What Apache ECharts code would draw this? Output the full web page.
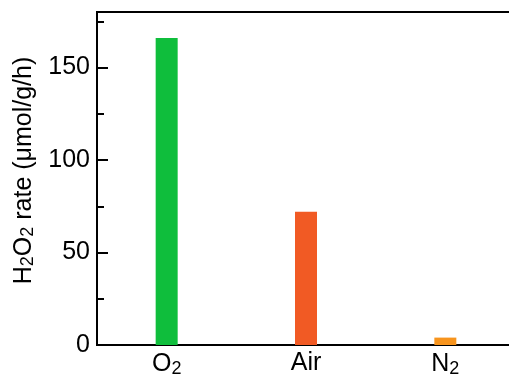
<!DOCTYPE html>
<html><head><meta charset="utf-8">
<script src="https://cdn.jsdelivr.net/npm/echarts@6/dist/echarts.min.js"></script>
<style>html,body{margin:0;padding:0;background:#fff}#c{width:509px;height:378px}</style>
</head><body><div id="c"></div>
<script>
const categories = ['O2', 'Air', 'N2'];
const categoryLabels = ['{n|O}{s|2}', '{n|Air}', '{n|N}{s|2}'];
const rates = [166, 72, 4];
const barColors = ['#0FBE3C', '#F15A24', '#F7941D'];
const yTicks = [0, 50, 100, 150];

const chart = echarts.init(document.getElementById('c'));
const font = 'Liberation Sans, Arial, sans-serif';
const rich = {
  n: { fontSize: 25, color: '#000', fontFamily: font },
  s: { fontSize: 18, color: '#000', fontFamily: font, verticalAlign: 'bottom', padding: [9, 0, 0, 0] }
};
chart.setOption({
  animation: false,
  grid: { left: 97, top: 12, width: 418, bottom: 33, outerBoundsMode: 'none', containLabel: false, show: true, borderColor: '#000', borderWidth: 2, backgroundColor: 'transparent' },
  xAxis: {
    type: 'category', data: categories,
    axisLine: { lineStyle: { color: '#000', width: 2 } },
    axisTick: { show: false },
    axisLabel: { margin: 6, fontFamily: font, formatter: (v, i) => categoryLabels[i], rich: rich }
  },
  yAxis: {
    type: 'value', min: 0, max: 180, interval: 50,
    axisLine: { show: true, lineStyle: { color: '#000', width: 2 } },
    axisTick: { show: true, inside: true, length: 11, lineStyle: { color: '#000', width: 2 } },
    minorTick: { show: true, splitNumber: 2, length: 7, lineStyle: { color: '#000', width: 2 } },
    splitLine: { show: false },
    axisLabel: { color: '#000', fontSize: 25, fontFamily: font, margin: 7, formatter: v => yTicks.includes(v) ? String(v) : '' },
    name: '{n|H}{s|2}{n|O}{s|2}{n| rate (μmol/g/h)}',
    nameLocation: 'middle', nameRotate: 90, nameGap: 57,
    nameTextStyle: { padding: [0, 0, 0, 16], rich: rich }
  },
  series: [{
    type: 'bar', barWidth: 22,
    data: rates.map((v, i) => ({ value: v, itemStyle: { color: barColors[i] } }))
  }]
});
</script></body></html>
